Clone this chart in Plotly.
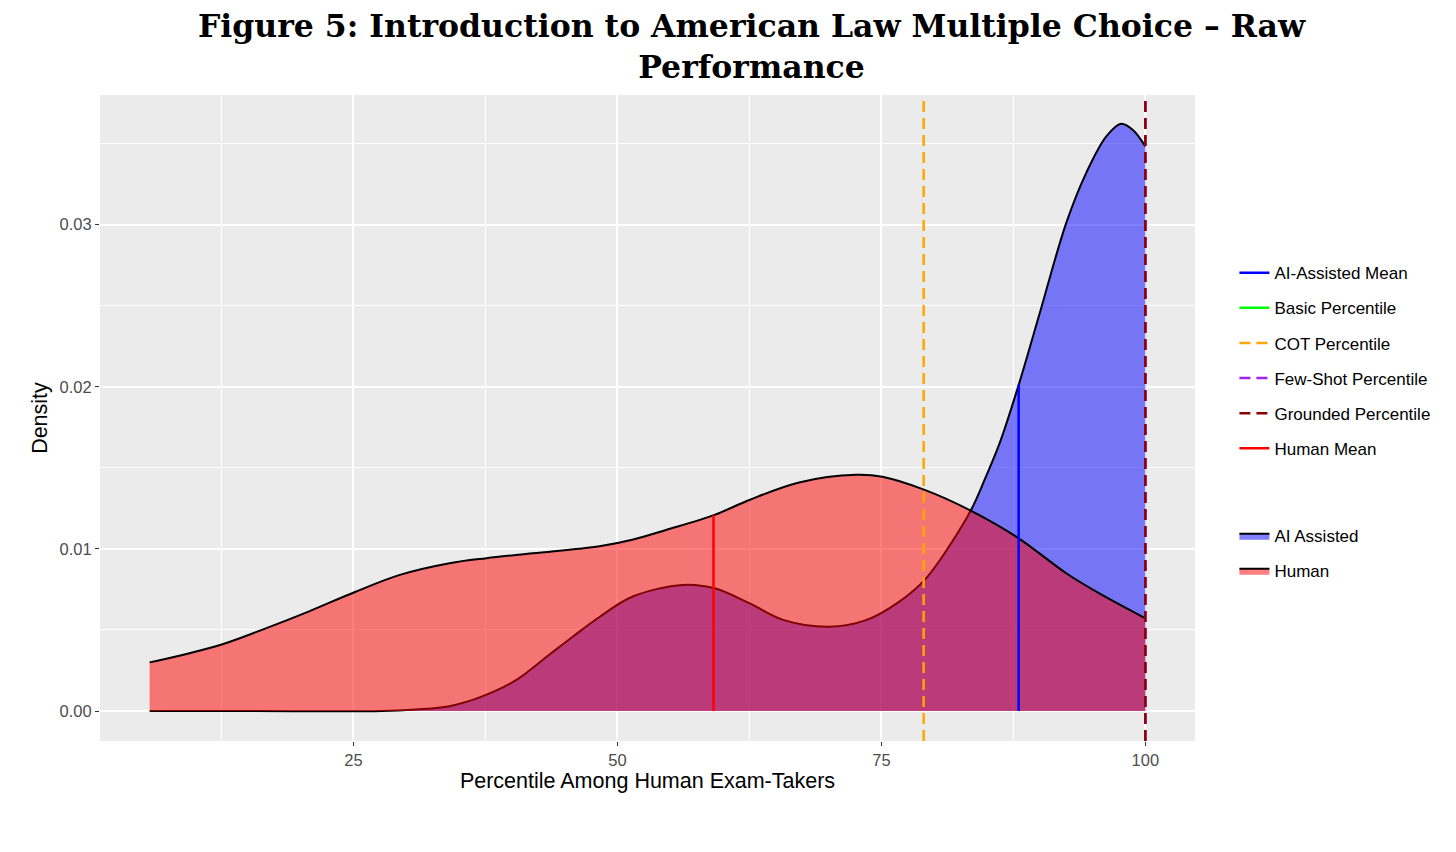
"""Density of raw percentile scores, human vs AI-assisted, with reference lines."""
import numpy as np
import plotly.graph_objects as go

# density curves (percentile -> density)
human_x = [5.7, 8.8, 12.6, 16.7, 20.8, 25.2, 29.4, 34.1, 37.6, 42.0, 48.3, 51.4,
           54.6, 59.2, 62.5, 67.2, 72.6, 75.1, 79.1, 83.5, 87.9, 92.5, 95.6, 100]
human_y = [0.00300, 0.00346, 0.00412, 0.00510, 0.00615, 0.00736, 0.00840, 0.00912,
           0.00943, 0.00973, 0.01016, 0.01056, 0.01117, 0.01210, 0.01302, 0.01410,
           0.01457, 0.01445, 0.01364, 0.01235, 0.01070, 0.00850, 0.00727, 0.00572]

ai_x = [5.7, 15, 27.7, 30.9, 34.1, 37.2, 40.4, 43.6, 45.8, 48.3, 51.4, 56.2, 59.2,
        62.5, 65.7, 70.1, 73.6, 76.7, 79.1, 81.4, 83.5, 84.9, 86.2, 87.9, 90.0,
        92.5, 94.4, 96.3, 97.7, 98.8, 100]
ai_y = [0, 0, 0, 0.0001, 0.0003, 0.0009, 0.0019, 0.0035, 0.0046, 0.0058, 0.00705,
        0.00778, 0.00757, 0.00665, 0.00562, 0.0052, 0.00562, 0.00675, 0.00809,
        0.01014, 0.01241, 0.01446, 0.01652, 0.0199, 0.02455, 0.0301, 0.0332, 0.03545,
        0.03623, 0.03586, 0.03483]

# reference values
human_mean = 59.1
ai_mean = 88.0
basic_pct = None      # not drawn inside the panel
cot_pct = 79.0
few_shot_pct = 100.0
grounded_pct = 100.0

x_ticks = [25, 50, 75, 100]
y_ticks = [0.00, 0.01, 0.02, 0.03]

DASH = "11px,6px"
CURVE = dict(color="black", width=2, shape="spline", smoothing=1.0)

fig = go.Figure()

fig.add_trace(go.Scatter(
    x=ai_x, y=ai_y, mode="lines", fill="tozeroy",
    fillcolor="rgba(0,0,255,0.5)", line=CURVE,
    name="AI Assisted", legend="legend2", legendgroup="ai", legendrank=1,
))
fig.add_trace(go.Scatter(
    x=human_x, y=human_y, mode="lines", fill="tozeroy",
    fillcolor="rgba(255,0,0,0.5)", line=CURVE,
    name="Human", legend="legend2", legendgroup="human", legendrank=2,
))

# mean segments run from zero up to the curve
ai_top = float(np.interp(ai_mean, ai_x, ai_y))
human_top = float(np.interp(human_mean, human_x, human_y))

fig.add_trace(go.Scatter(
    x=[ai_mean, ai_mean], y=[0, ai_top], mode="lines",
    line=dict(color="blue", width=2.5), name="AI-Assisted Mean",
    legendgroup="g1", legendrank=1,
))
fig.add_trace(go.Scatter(
    x=[basic_pct], y=[None], mode="lines",
    line=dict(color="#00FF00", width=2.5), name="Basic Percentile",
    legendgroup="g2", legendrank=2,
))
fig.add_trace(go.Scatter(
    x=[human_mean, human_mean], y=[0, human_top], mode="lines",
    line=dict(color="red", width=2.5), name="Human Mean",
    legendgroup="g6", legendrank=6,
))

for val, color, label, grp, rank in [
    (cot_pct, "orange", "COT Percentile", "g3", 3),
    (few_shot_pct, "#A020F0", "Few-Shot Percentile", "g4", 4),
    (grounded_pct, "#8B0000", "Grounded Percentile", "g5", 5),
]:
    fig.add_shape(
        type="line", xref="x", yref="y domain", x0=val, x1=val, y0=0, y1=1,
        line=dict(color=color, width=2.5, dash=DASH),
        showlegend=True, name=label, legendgroup=grp, legendrank=rank,
    )

# page body adds 8px, margins are trimmed to compensate
fig.update_layout(
    width=1456, height=852,
    margin=dict(l=92, r=269, t=87, b=119),
    paper_bgcolor="white", plot_bgcolor="#EBEBEB",
    title=dict(
        text="Figure 5: Introduction to American Law Multiple Choice – Raw<br>Performance",
        x=0.595, xanchor="center", xref="paper",
        y=0.966, yanchor="top", yref="container",
        font=dict(family="DejaVu Serif", size=31.5, color="black", weight="bold"),
    ),
    font=dict(family="Liberation Sans", color="black"),
    legend=dict(
        x=1.036, xanchor="left", y=0.752, yanchor="top",
        font=dict(size=17, color="black"), traceorder="grouped",
        tracegroupgap=10, bgcolor="rgba(0,0,0,0)",
    ),
    legend2=dict(
        x=1.036, xanchor="left", y=0.345, yanchor="top",
        font=dict(size=17, color="black"), traceorder="grouped",
        tracegroupgap=10, bgcolor="rgba(0,0,0,0)",
    ),
)

fig.update_xaxes(
    range=[1.0, 104.7], tickvals=x_ticks, ticktext=[str(t) for t in x_ticks],
    showgrid=True, gridcolor="white", gridwidth=2, zeroline=False,
    minor=dict(dtick=12.5, tick0=0, showgrid=True, gridcolor="white", gridwidth=1),
    ticks="outside", ticklen=4, tickcolor="#333333",
    tickfont=dict(size=16.5, color="#4D4D4D"),
    title=dict(text="Percentile Among Human Exam-Takers", font=dict(size=21.5), standoff=4),
)
fig.update_yaxes(
    range=[-0.00185, 0.038], tickvals=y_ticks, tickformat=".2f",
    showgrid=True, gridcolor="white", gridwidth=2, zeroline=False,
    minor=dict(dtick=0.005, tick0=0, showgrid=True, gridcolor="white", gridwidth=1),
    ticks="outside", ticklen=4, tickcolor="#333333",
    tickfont=dict(size=16.5, color="#4D4D4D"),
    title=dict(text="Density", font=dict(size=21.5), standoff=6),
)

fig.write_html("out.html")
